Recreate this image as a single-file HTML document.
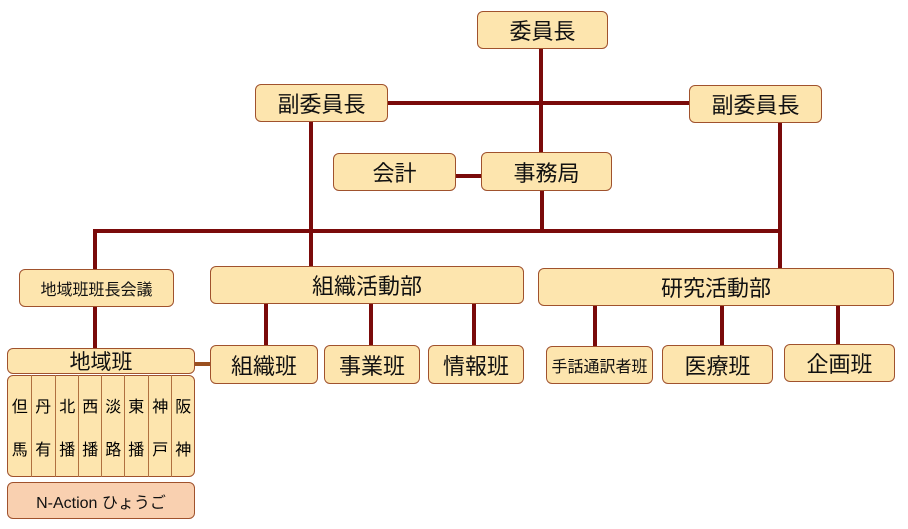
<!DOCTYPE html>
<html><head><meta charset="utf-8"><style>
body{margin:0;width:908px;height:529px;background:#fff;position:relative;overflow:hidden;font-family:"Liberation Sans","Noto Sans CJK JP",sans-serif;}
.b{position:absolute;box-sizing:border-box;background:#fde5ae;border:1.5px solid #a0522d;border-radius:6px;display:flex;align-items:center;justify-content:center;color:#111;font-size:22px;}
svg{position:absolute;left:0;top:0}
.c{position:absolute;top:375px;height:102px;width:23.5px;box-sizing:border-box;border-left:1px solid #b07040;display:flex;flex-direction:column;align-items:center;justify-content:space-around;font-size:16px;padding:8px 0}
</style></head><body>
<svg width="908" height="529"><g stroke="#7a0a0a" stroke-width="4" fill="none">
<line x1="541" y1="49" x2="541" y2="153"/>
<line x1="388" y1="103" x2="690" y2="103"/>
<line x1="455" y1="176" x2="482" y2="176"/>
<line x1="542" y1="190" x2="542" y2="231"/>
<line x1="95" y1="231" x2="780" y2="231"/>
<line x1="95" y1="229" x2="95" y2="270"/>
<line x1="311" y1="121" x2="311" y2="267"/>
<line x1="780" y1="122" x2="780" y2="269"/>
<line x1="95" y1="306" x2="95" y2="349"/>
<line x1="266" y1="303" x2="266" y2="346"/>
<line x1="371" y1="303" x2="371" y2="346"/>
<line x1="474" y1="303" x2="474" y2="346"/>
<line x1="595" y1="305" x2="595" y2="347"/>
<line x1="722" y1="305" x2="722" y2="346"/>
<line x1="838" y1="305" x2="838" y2="345"/>
</g><line x1="194" y1="364" x2="211" y2="364" stroke="#9a5020" stroke-width="4"/></svg>
<div class="b" style="left:477px;top:11px;width:131px;height:38px">委員長</div>
<div class="b" style="left:255px;top:84px;width:133px;height:38px">副委員長</div>
<div class="b" style="left:689px;top:85px;width:133px;height:38px">副委員長</div>
<div class="b" style="left:333px;top:153px;width:123px;height:38px">会計</div>
<div class="b" style="left:481px;top:152px;width:131px;height:39px">事務局</div>
<div class="b" style="left:19px;top:269px;width:155px;height:38px;font-size:16px">地域班班長会議</div>
<div class="b" style="left:210px;top:266px;width:314px;height:38px">組織活動部</div>
<div class="b" style="left:538px;top:268px;width:356px;height:38px">研究活動部</div>
<div class="b" style="left:210px;top:345px;width:108px;height:39px">組織班</div>
<div class="b" style="left:324px;top:345px;width:96px;height:39px">事業班</div>
<div class="b" style="left:428px;top:345px;width:96px;height:39px">情報班</div>
<div class="b" style="left:546px;top:346px;width:107px;height:38px;font-size:16px">手話通訳者班</div>
<div class="b" style="left:662px;top:345px;width:111px;height:39px">医療班</div>
<div class="b" style="left:784px;top:344px;width:111px;height:38px">企画班</div>
<div class="b" style="left:7px;top:348px;width:188px;height:26px;font-size:21px">地域班</div>
<div class="b" style="left:7px;top:375px;width:188px;height:102px"></div>
<div class="c" style="left:8px;border-left:none"><span>但</span><span>馬</span></div>
<div class="c" style="left:31px"><span>丹</span><span>有</span></div>
<div class="c" style="left:55px"><span>北</span><span>播</span></div>
<div class="c" style="left:78px"><span>西</span><span>播</span></div>
<div class="c" style="left:101px"><span>淡</span><span>路</span></div>
<div class="c" style="left:124px"><span>東</span><span>播</span></div>
<div class="c" style="left:148px"><span>神</span><span>戸</span></div>
<div class="c" style="left:171px"><span>阪</span><span>神</span></div>
<div class="b" style="left:7px;top:482px;width:188px;height:37px;background:#f9d0b0;font-size:16px">N-Action ひょうご</div>
</body></html>
